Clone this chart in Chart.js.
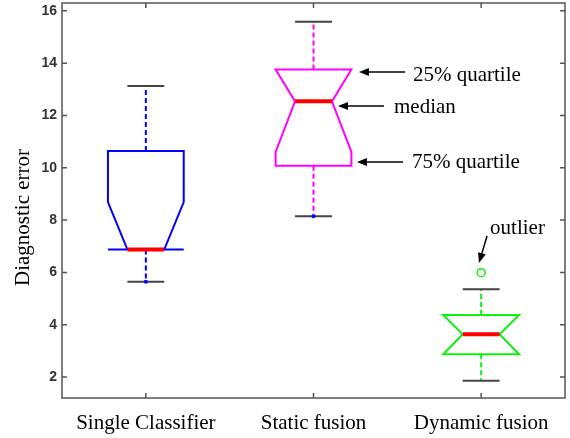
<!DOCTYPE html>
<html>
<head>
<meta charset="utf-8">
<script src="https://cdn.jsdelivr.net/npm/chart.js@4"></script>
<style>
  html, body { margin: 0; padding: 0; background: #fff; }
  #wrap { width: 570px; height: 438px; }
</style>
</head>
<body>
<div id="wrap"><canvas id="box-chart"></canvas></div>
<script>
// Dữ liệu
const categories = ['Single Classifier', 'Static fusion', 'Dynamic fusion'];
const whiskerLow = [5.64, 8.15, 1.86];
const quartile1 = [6.88, 10.08, 2.87];
const notchLow = [6.88, 10.61, 2.87];
const medians = [6.88, 12.54, 3.64];
const notchHigh = [8.69, 13.76, 4.37];
const quartile3 = [10.64, 13.76, 4.37];
const whiskerHigh = [13.13, 15.58, 5.36];
const outliers = [null, null, 5.99];
const endDots = [5.64, 8.15, null];
const yTicks = [2, 4, 6, 8, 10, 12, 14, 16];

const boxColors = ['#0000ff', '#ff00ff', '#10f010'];
const serif = '"Liberation Serif", "Times New Roman", serif';

// chú thích (toạ độ theo trục: x = chỉ số nhóm, y = giá trị)
const notes = [
    { text: '25% quartile', x: 1.593, y: 13.32, from: [1.546, 13.66], to: [1.271, 13.66] },
    { text: 'median', x: 1.480, y: 12.09, from: [1.420, 12.36], to: [1.146, 12.36] },
    { text: '75% quartile', x: 1.587, y: 9.99, from: [1.534, 10.22], to: [1.259, 10.22] },
    { text: 'outlier', x: 2.053, y: 7.46, from: [2.035, 7.39], to: [1.987, 6.36] }
];

function arrow(ctx, x1, y1, x2, y2) {
    const ang = Math.atan2(y2 - y1, x2 - x1);
    const len = 10, wid = 4;
    ctx.beginPath();
    ctx.moveTo(x1, y1);
    ctx.lineTo(x2 - Math.cos(ang) * len * 0.8, y2 - Math.sin(ang) * len * 0.8);
    ctx.stroke();
    ctx.beginPath();
    ctx.moveTo(x2, y2);
    ctx.lineTo(x2 - Math.cos(ang) * len - Math.sin(ang) * wid, y2 - Math.sin(ang) * len + Math.cos(ang) * wid);
    ctx.lineTo(x2 - Math.cos(ang) * len + Math.sin(ang) * wid, y2 - Math.sin(ang) * len - Math.cos(ang) * wid);
    ctx.closePath();
    ctx.fill();
}

// vẽ các hộp có khía
const boxPlugin = {
    id: 'boxes',
    beforeDatasetsDraw(chart) {
        const ctx = chart.ctx;
        const xs = chart.scales.x, ys = chart.scales.y;
        categories.forEach((c, i) => {
            const cx = xs.getPixelForValue(i);
            const half = xs.getPixelForValue(i + 0.226) - cx;
            const inner = xs.getPixelForValue(i + 0.11) - cx;
            const y = v => ys.getPixelForValue(v);
            ctx.save();
            // râu
            ctx.strokeStyle = boxColors[i];
            ctx.lineWidth = 2;
            ctx.setLineDash([5, 3]);
            ctx.beginPath();
            ctx.moveTo(cx, y(quartile3[i]));
            ctx.lineTo(cx, y(whiskerHigh[i]));
            ctx.moveTo(cx, y(quartile1[i]));
            ctx.lineTo(cx, y(whiskerLow[i]));
            ctx.stroke();
            ctx.setLineDash([]);
            // đầu râu
            ctx.strokeStyle = '#444';
            ctx.beginPath();
            ctx.moveTo(cx - inner, y(whiskerHigh[i]));
            ctx.lineTo(cx + inner, y(whiskerHigh[i]));
            ctx.moveTo(cx - inner, y(whiskerLow[i]));
            ctx.lineTo(cx + inner, y(whiskerLow[i]));
            ctx.stroke();
            // hộp
            ctx.strokeStyle = boxColors[i];
            ctx.lineJoin = 'miter';
            ctx.beginPath();
            ctx.moveTo(cx - half, y(quartile1[i]));
            ctx.lineTo(cx - half, y(notchLow[i]));
            ctx.lineTo(cx - inner, y(medians[i]));
            ctx.lineTo(cx - half, y(notchHigh[i]));
            ctx.lineTo(cx - half, y(quartile3[i]));
            ctx.lineTo(cx + half, y(quartile3[i]));
            ctx.lineTo(cx + half, y(notchHigh[i]));
            ctx.lineTo(cx + inner, y(medians[i]));
            ctx.lineTo(cx + half, y(notchLow[i]));
            ctx.lineTo(cx + half, y(quartile1[i]));
            ctx.closePath();
            ctx.stroke();
            // trung vị
            ctx.strokeStyle = '#ff0000';
            ctx.lineWidth = 4;
            ctx.beginPath();
            ctx.moveTo(cx - inner, y(medians[i]));
            ctx.lineTo(cx + inner, y(medians[i]));
            ctx.stroke();
            ctx.restore();
        });
    },
    afterDraw(chart) {
        const ctx = chart.ctx;
        const xs = chart.scales.x, ys = chart.scales.y;
        const a = chart.chartArea;
        ctx.save();
        // khung và vạch chia hướng vào trong
        ctx.strokeStyle = '#555';
        ctx.lineWidth = 1.5;
        ctx.strokeRect(a.left, a.top, a.right - a.left, a.bottom - a.top);
        ctx.beginPath();
        yTicks.forEach(v => {
            const py = ys.getPixelForValue(v);
            ctx.moveTo(a.left, py); ctx.lineTo(a.left + 5, py);
            ctx.moveTo(a.right, py); ctx.lineTo(a.right - 5, py);
        });
        categories.forEach((c, i) => {
            const px = xs.getPixelForValue(i);
            ctx.moveTo(px, a.top); ctx.lineTo(px, a.top + 5);
            ctx.moveTo(px, a.bottom); ctx.lineTo(px, a.bottom - 5);
        });
        ctx.stroke();

        // tiêu đề trục y
        ctx.fillStyle = '#000';
        ctx.font = '21px ' + serif;
        ctx.textAlign = 'center';
        ctx.textBaseline = 'alphabetic';
        ctx.save();
        ctx.translate(29, (a.top + a.bottom) / 2 + 17);
        ctx.rotate(-Math.PI / 2);
        ctx.fillText('Diagnostic error', 0, 0);
        ctx.restore();

        // chú thích và mũi tên
        ctx.textAlign = 'left';
        ctx.strokeStyle = '#000';
        ctx.lineWidth = 1.5;
        notes.forEach(n => {
            ctx.fillText(n.text, xs.getPixelForValue(n.x), ys.getPixelForValue(n.y));
            arrow(ctx, xs.getPixelForValue(n.from[0]), ys.getPixelForValue(n.from[1]),
                xs.getPixelForValue(n.to[0]), ys.getPixelForValue(n.to[1]));
        });
        ctx.restore();
    }
};

const ctx = document.getElementById('box-chart').getContext('2d');
const myChart = new Chart(ctx, {
    type: 'line',
    data: {
        labels: categories,
        datasets: [
            {
                label: 'outlier',
                data: outliers,
                showLine: false,
                pointRadius: 4,
                pointBorderWidth: 1.5,
                pointBorderColor: '#10f010',
                pointBackgroundColor: '#fff'
            },
            {
                label: 'end',
                data: endDots,
                showLine: false,
                pointRadius: 2,
                pointBorderWidth: 0,
                pointBackgroundColor: '#0000ff'
            }
        ]
    },
    options: {
        responsive: true,
        maintainAspectRatio: false,
        animation: false,
        layout: { autoPadding: false, padding: { top: 3, right: 5, left: 0, bottom: 0 } },
        plugins: { legend: { display: false }, tooltip: { enabled: false } },
        scales: {
            x: {
                offset: true,
                grid: { display: false, drawTicks: false },
                border: { display: false },
                ticks: {
                    autoSkip: false,
                    maxRotation: 0,
                    padding: 13,
                    color: '#000',
                    font: { family: serif, size: 21 }
                },
                afterFit: s => { s.height = 40; s.paddingLeft = 0; s.paddingRight = 0; }
            },
            y: {
                min: 1.2,
                max: 16.3,
                grid: { display: false, drawTicks: false },
                border: { display: false },
                ticks: {
                    padding: 5,
                    color: '#333',
                    font: { family: '"Liberation Sans", Arial, sans-serif', size: 14, weight: 'bold', lineHeight: 0.5 }
                },
                afterBuildTicks: s => { s.ticks = yTicks.map(v => ({ value: v })); },
                afterFit: s => { s.width = 62; s.paddingTop = 0; s.paddingBottom = 0; }
            }
        }
    },
    plugins: [boxPlugin]
});
</script>
</body>
</html>
